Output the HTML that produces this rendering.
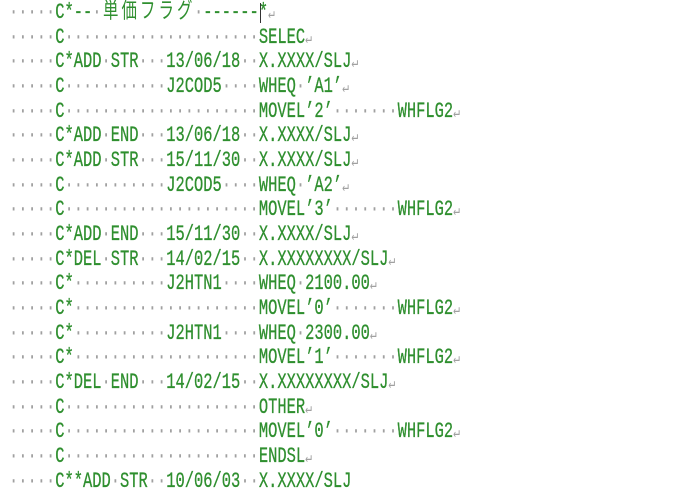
<!DOCTYPE html>
<html><head><meta charset="utf-8"><style>
html,body{margin:0;padding:0;background:#fff;width:700px;height:504px;overflow:hidden}
#c{position:absolute;left:8.75px;top:1px;transform-origin:0 0;transform:scaleX(0.7008);
font-family:"Liberation Mono","DejaVu Sans Mono",monospace;font-size:22px;color:#2f8f2f;-webkit-text-stroke:0.3px #2f8f2f}
#c div{height:24.68px;line-height:24.68px;white-space:pre;overflow:visible}
.d{color:#a0a0a0;-webkit-text-stroke:0}
.r{color:#a0a0a0;-webkit-text-stroke:0;font-family:"DejaVu Sans Mono",monospace;font-size:16px;line-height:10px}
.j{display:inline-block;width:26.4px;text-align:center;font-family:"Noto Sans CJK JP",sans-serif;font-size:22px;line-height:10px;-webkit-text-stroke:0}
#cur{position:absolute;left:260px;top:3px;width:1px;height:20px;background:#333}
</style></head><body>
<div id="c">
<div><span class="d">·····</span>C*--<span class="d">·</span><span class="j">単</span><span class="j">価</span><span class="j">フ</span><span class="j">ラ</span><span class="j">グ</span><span class="d">·</span>------*<span class="r">↵</span></div>
<div><span class="d">·····</span>C<span class="d">·····················</span>SELEC<span class="r">↵</span></div>
<div><span class="d">·····</span>C*ADD<span class="d">·</span>STR<span class="d">···</span>13/06/18<span class="d">··</span>X.XXXX/SLJ<span class="r">↵</span></div>
<div><span class="d">·····</span>C<span class="d">···········</span>J2COD5<span class="d">····</span>WHEQ<span class="d">·</span>’A1’<span class="r">↵</span></div>
<div><span class="d">·····</span>C<span class="d">·····················</span>MOVEL’2’<span class="d">·······</span>WHFLG2<span class="r">↵</span></div>
<div><span class="d">·····</span>C*ADD<span class="d">·</span>END<span class="d">···</span>13/06/18<span class="d">··</span>X.XXXX/SLJ<span class="r">↵</span></div>
<div><span class="d">·····</span>C*ADD<span class="d">·</span>STR<span class="d">···</span>15/11/30<span class="d">··</span>X.XXXX/SLJ<span class="r">↵</span></div>
<div><span class="d">·····</span>C<span class="d">···········</span>J2COD5<span class="d">····</span>WHEQ<span class="d">·</span>’A2’<span class="r">↵</span></div>
<div><span class="d">·····</span>C<span class="d">·····················</span>MOVEL’3’<span class="d">·······</span>WHFLG2<span class="r">↵</span></div>
<div><span class="d">·····</span>C*ADD<span class="d">·</span>END<span class="d">···</span>15/11/30<span class="d">··</span>X.XXXX/SLJ<span class="r">↵</span></div>
<div><span class="d">·····</span>C*DEL<span class="d">·</span>STR<span class="d">···</span>14/02/15<span class="d">··</span>X.XXXXXXXX/SLJ<span class="r">↵</span></div>
<div><span class="d">·····</span>C*<span class="d">··········</span>J2HTN1<span class="d">····</span>WHEQ<span class="d">·</span>2100.00<span class="r">↵</span></div>
<div><span class="d">·····</span>C*<span class="d">····················</span>MOVEL’0’<span class="d">·······</span>WHFLG2<span class="r">↵</span></div>
<div><span class="d">·····</span>C*<span class="d">··········</span>J2HTN1<span class="d">····</span>WHEQ<span class="d">·</span>2300.00<span class="r">↵</span></div>
<div><span class="d">·····</span>C*<span class="d">····················</span>MOVEL’1’<span class="d">·······</span>WHFLG2<span class="r">↵</span></div>
<div><span class="d">·····</span>C*DEL<span class="d">·</span>END<span class="d">···</span>14/02/15<span class="d">··</span>X.XXXXXXXX/SLJ<span class="r">↵</span></div>
<div><span class="d">·····</span>C<span class="d">·····················</span>OTHER<span class="r">↵</span></div>
<div><span class="d">·····</span>C<span class="d">·····················</span>MOVEL’0’<span class="d">·······</span>WHFLG2<span class="r">↵</span></div>
<div><span class="d">·····</span>C<span class="d">·····················</span>ENDSL<span class="r">↵</span></div>
<div><span class="d">·····</span>C**ADD<span class="d">·</span>STR<span class="d">··</span>10/06/03<span class="d">··</span>X.XXXX/SLJ</div>
</div>
<div id="cur"></div>
</body></html>
